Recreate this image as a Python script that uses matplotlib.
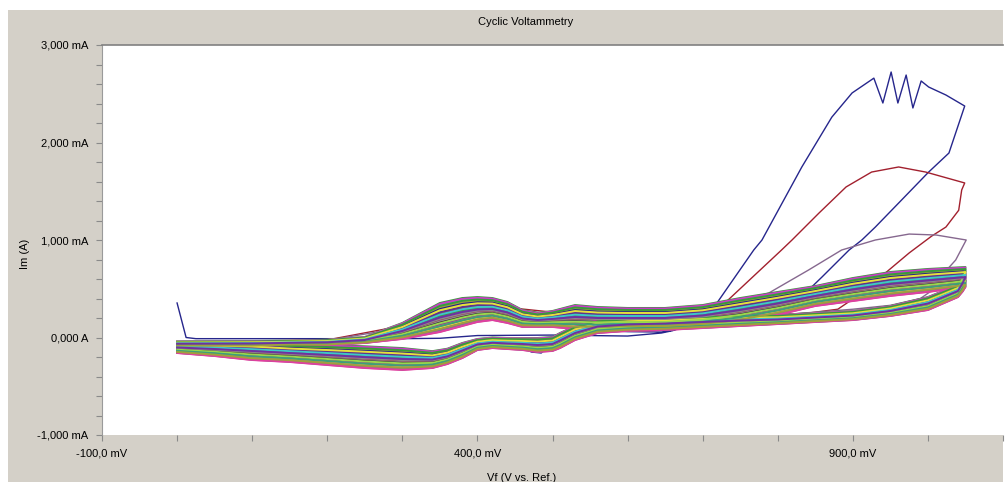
import numpy as np
import matplotlib.pyplot as plt
from matplotlib.ticker import FixedLocator, FixedFormatter, MultipleLocator

plt.rcParams['font.family'] = ['Liberation Sans', 'DejaVu Sans']

# bundle envelopes (mV, mA)
fwd_v = [0, 50, 100, 150, 200, 250, 300, 350, 380, 400, 420, 440, 460, 480, 500,
         530, 560, 600, 650, 700, 750, 800, 850, 900, 950, 1000, 1050]
fwd_hi = [-40, -38, -36, -32, -22, 5, 149, 354, 405, 415, 405, 364, 282, 251, 272,
          333, 313, 303, 303, 333, 405, 467, 528, 610, 672, 703, 723]
fwd_lo = [-87, -87, -87, -77, -77, -56, -15, 56, 118, 159, 179, 149, 108, 108, 108,
          87, 87, 97, 97, 118, 159, 231, 323, 374, 426, 467, 518]

rev_v = [1046, 1040, 1000, 950, 900, 850, 800, 750, 700, 650, 600, 560, 530, 510, 500,
         480, 460, 440, 420, 400, 380, 360, 340, 300, 250, 200, 150, 100, 50, 0]
rev_hi = [640, 538, 415, 323, 272, 251, 231, 231, 221, 210, 200, 179, 118, 46, 5,
          -5, -5, -5, 0, -15, -56, -115, -140, -108, -90, -77, -67, -46, -46, -46]
rev_lo = [470, 415, 282, 221, 179, 159, 138, 118, 97, 77, 67, 46, -26, -108, -138,
          -149, -128, -118, -108, -128, -210, -272, -313, -333, -313, -282, -251, -231, -190, -159]

# position of each later cycle inside the bundle (0 = bottom, 1 = top)
bundle_frac = [1.0, 0.94, 0.88, 0.82, 0.76, 0.71, 0.65, 0.59, 0.53, 0.47, 0.41, 0.35,
               0.29, 0.24, 0.18, 0.12, 0.06, 0.0,
               0.56, 0.15, 0.91, 0.38, 0.74, 0.03, 0.85, 0.26, 0.62, 0.97, 0.09, 0.44,
               0.79, 0.21, 0.68, 0.32, 0.50, 0.01,
               0.90, 0.75, 0.60, 0.45, 0.30, 0.20, 0.10, 0.50]

# cycle 1 (blue)
c1_v = [0, 12, 25, 300, 350, 400, 500, 600, 645, 660, 690, 719, 768, 779, 832, 872,
        899, 928, 940, 951, 960, 971, 980, 991, 1001, 1024, 1049,
        1028, 1001, 961, 930, 912, 895, 859, 841, 815, 790, 750, 700, 645, 600,
        531, 504, 485, 472, 455, 415, 400, 380, 350, 300, 200, 100, 0]
c1_i = [354, 0, -12, -12, -8, 20, 25, 15, 46, 70, 160, 354, 897, 1000, 1748, 2260,
        2508, 2660, 2405, 2723, 2405, 2692, 2354, 2631, 2569, 2487, 2374,
        1892, 1697, 1379, 1133, 1000, 897, 621, 487, 282, 240, 190, 130, 56, 60,
        90, -26, -159, -149, -87, -46, -60, -150, -240, -250, -200, -150, -100]

# cycle 2 (red)
c2_v = [0, 100, 200, 300, 350, 400, 450, 500, 560, 650, 700, 731, 805, 819, 855, 891,
        925, 961, 997, 1049, 1045, 1041, 1024, 1005, 975, 948, 908, 880, 840, 800,
        700, 600, 560, 530, 510, 480, 440, 400, 360, 300, 200, 100, 0]
c2_i = [-45, -40, -25, 120, 330, 390, 300, 260, 300, 290, 320, 364, 897, 1000, 1277, 1544,
        1697, 1749, 1697, 1585, 1513, 1305, 1133, 1040, 867, 692, 436, 290, 250, 235,
        190, 160, 130, 50, -80, -120, -90, -100, -220, -280, -230, -180, -130]

# cycle 3 (purple)
c3_v = [0, 100, 200, 300, 350, 400, 450, 500, 560, 650, 700, 750, 788, 841, 885, 930,
        975, 1011, 1051, 1037, 1025, 1005, 990, 950, 900, 850, 800, 700, 600, 560,
        530, 510, 480, 440, 400, 360, 300, 200, 100, 0]
c3_i = [-50, -45, -30, 100, 300, 370, 290, 240, 280, 280, 300, 370, 456, 692, 897, 1000,
        1061, 1051, 1000, 795, 692, 480, 400, 330, 290, 260, 230, 180, 150, 120,
        40, -70, -110, -80, -90, -200, -260, -220, -170, -120]

first_colors = ['#26268c', '#a2202e', '#86688f']
bundle_colors = ['#3a9a3a', '#e6e03c', '#3cc8c8', '#8a8a8a', '#9ad84c', '#3ca07a',
                 '#a0a03c', '#7030a0', '#a02050', '#c83cc8', '#9b3ccb', '#b01a3c',
                 '#20208a', '#d06080', '#603090', '#303030', '#5070c0', '#e040a0']

y_ticks = [-1000, 0, 1000, 2000, 3000]
y_labels = ['-1,000 mA', '0,000 A', '1,000 mA', '2,000 mA', '3,000 mA']
x_ticks = [-100, 400, 900]
x_labels = ['-100,0 mV', '400,0 mV', '900,0 mV']

W, H = 1006, 482
fig = plt.figure(figsize=(W / 100, H / 100), dpi=100, facecolor='white')

# grey window background
bg = fig.add_axes([8 / W, 0, (1003 - 8) / W, (H - 10) / H])
bg.set_facecolor('#d4d0c8')
bg.set_xticks([])
bg.set_yticks([])
for s in bg.spines.values():
    s.set_visible(False)

ax = fig.add_axes([102 / W, (H - 435) / H, (1003 - 102) / W, (435 - 45) / H])
ax.set_facecolor('white')

cyc_v = np.array(fwd_v + rev_v)
hi = np.array(fwd_hi + rev_hi, dtype=float)
lo = np.array(fwd_lo + rev_lo, dtype=float)

for k, (v, i) in enumerate([(c1_v, c1_i), (c2_v, c2_i), (c3_v, c3_i)]):
    ax.plot(v, i, color=first_colors[k], lw=1.0)

for n, f in enumerate(bundle_frac):
    ax.plot(cyc_v, lo + f * (hi - lo), color=bundle_colors[n % len(bundle_colors)], lw=1.4)

ax.set_xlim(-100, 1100)
ax.set_ylim(-1000, 3000)
ax.yaxis.set_major_locator(FixedLocator(y_ticks))
ax.yaxis.set_major_formatter(FixedFormatter(y_labels))
ax.yaxis.set_minor_locator(MultipleLocator(200))
ax.xaxis.set_major_locator(FixedLocator(x_ticks))
ax.xaxis.set_major_formatter(FixedFormatter(x_labels))
ax.xaxis.set_minor_locator(MultipleLocator(100))
ax.tick_params(which='both', length=4, width=0.8, color='#8a8a8a', labelsize=8, pad=6)
ax.tick_params(axis='x', pad=5.5)

for s in ['right', 'bottom']:
    ax.spines[s].set_visible(False)
ax.spines['left'].set_color('#9a9a9a')
ax.spines['top'].set_color('#808080')
ax.spines['top'].set_linewidth(1.2)

fig.text(526 / W, (H - 22) / H, 'Cyclic Voltammetry', ha='center', va='center', fontsize=8)
fig.text(25 / W, (H - 254) / H, 'Im (A)', ha='center', va='center', rotation=90, fontsize=8)
fig.text(522 / W, (H - 478) / H, 'Vf (V vs. Ref.)', ha='center', va='center', fontsize=8)

fig.savefig('out.png', dpi=100, facecolor='white')
